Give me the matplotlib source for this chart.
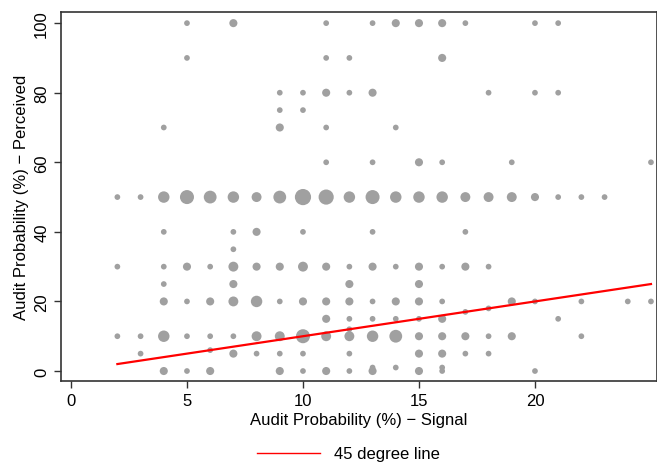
import matplotlib
matplotlib.use("Agg")
import matplotlib.pyplot as plt
from matplotlib.lines import Line2D

plt.rcParams['font.family'] = ['Liberation Sans', 'DejaVu Sans']

# signal (x), perceived (y), number of subjects at that point
signal = [5, 7, 11, 13, 14, 15, 16, 17, 20, 21,
          5, 11, 12, 16,
          9, 10, 11, 12, 13, 18, 20, 21,
          9, 10,
          4, 9, 11, 14,
          11, 13, 15, 16, 19, 25,
          2, 3, 4, 5, 6, 7, 8, 9, 10, 11, 12, 13, 14, 15, 16, 17, 18, 19, 20, 21, 22, 23,
          4, 7, 8, 10, 13, 17,
          7,
          2, 4, 5, 6, 7, 8, 9, 10, 11, 12, 13, 14, 15, 16, 17, 18,
          4, 7, 12, 15,
          4, 5, 6, 7, 8, 9, 10, 11, 12, 13, 14, 15, 16, 19, 20, 22, 24, 25,
          18, 17,
          11, 12, 13, 14, 15, 16, 21,
          12,
          2, 3, 4, 5, 6, 7, 8, 9, 10, 11, 12, 13, 14, 15, 16, 17, 18, 19, 22,
          6,
          3, 7, 8, 9, 10, 12, 15, 16, 17, 18,
          14, 16, 13,
          4, 5, 6, 9, 10, 11, 12, 13, 15, 16, 20]
perceived = [100] * 10 + [90] * 4 + [80] * 8 + [75] * 2 + [70] * 4 + [60] * 6 \
    + [50] * 22 + [40] * 6 + [35] + [30] * 16 + [25] * 4 + [20] * 18 \
    + [18, 17] + [15] * 7 + [12] + [10] * 19 + [6] + [5] * 10 + [1, 1, 1] + [0] * 11
count = [1, 2, 1, 1, 2, 2, 2, 1, 1, 1,
         1, 1, 1, 2,
         1, 1, 2, 1, 2, 1, 1, 1,
         1, 1,
         1, 2, 1, 1,
         1, 1, 2, 1, 1, 1,
         1, 1, 4, 6, 5, 4, 3, 5, 8, 7, 4, 6, 4, 4, 4, 3, 3, 3, 2, 1, 1, 1,
         1, 1, 2, 1, 1, 1,
         1,
         1, 1, 2, 1, 3, 2, 2, 3, 2, 1, 2, 1, 2, 1, 2, 1,
         1, 2, 2, 2,
         2, 1, 2, 3, 4, 1, 2, 2, 2, 1, 2, 2, 1, 2, 1, 1, 1, 1,
         1, 1,
         2, 1, 1, 1, 1, 2, 1,
         1,
         1, 1, 4, 1, 1, 1, 3, 3, 6, 3, 3, 4, 5, 2, 2, 2, 1, 2, 1,
         1,
         1, 2, 1, 1, 1, 1, 2, 2, 1, 1,
         1, 1, 1,
         2, 1, 2, 2, 1, 2, 1, 2, 2, 1, 1]

line_x = [2, 25]
line_y = [2, 25]

fig = plt.figure(figsize=(6.57, 4.64), dpi=100)
ax = fig.add_axes([61 / 657, 1 - 382 / 464, 1 - 61 / 657, (382 - 13) / 464])

ax.scatter(signal, perceived, s=[17 * c for c in count], color='#a0a0a0',
           linewidths=0, zorder=2)
ax.plot(line_x, line_y, color='red', linewidth=1.6, zorder=3)

ax.set_xlim(-0.43, 25.26)
ax.set_ylim(-2.87, 103.2)
ax.set_xticks([0, 5, 10, 15, 20])
ax.set_yticks([0, 20, 40, 60, 80, 100])
ax.tick_params(axis='both', labelsize=12, length=5, width=1, color='#333333')
plt.setp(ax.get_yticklabels(), rotation=90, va='center')
for sp in ax.spines.values():
    sp.set_color('#333333')
    sp.set_linewidth(1.2)

ax.set_xlabel('Audit Probability (%) \u2212 Signal', fontsize=12, labelpad=3)
ax.set_ylabel('Audit Probability (%) \u2212 Perceived', fontsize=12, labelpad=4)

handle = Line2D([], [], color='red', linewidth=1)
fig.legend([handle], ['45 degree line'], loc='center', bbox_to_anchor=(0.53, 1 - 455 / 464),
           frameon=False, fontsize=12, handlelength=3.8, handletextpad=0.8)

fig.savefig('out.png', dpi=100)
